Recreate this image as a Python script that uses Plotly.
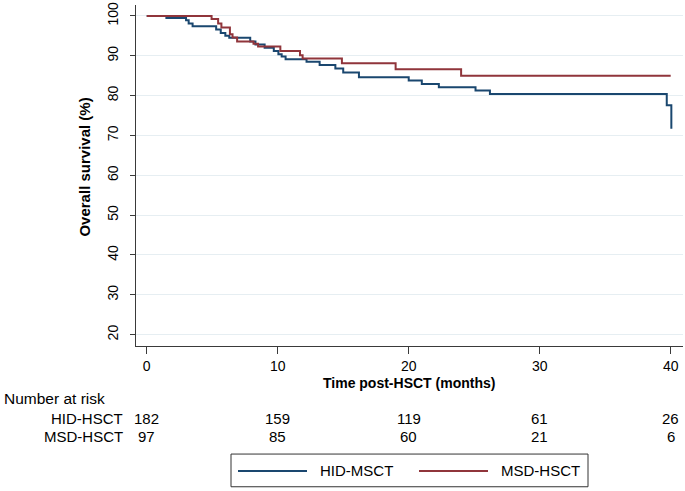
import plotly.graph_objects as go

# ---- data ----
hid_time = [0, 1.5, 3.0, 3.2, 3.5, 5.3, 5.65, 6.0, 6.3, 7.9, 8.3, 9.0, 9.7, 10.05, 10.3, 10.6,
            12.2, 13.2, 14.4, 15.0, 16.2, 20.0, 21.0, 22.3, 25.1, 26.2, 39.7, 40.05]
hid_surv = [100, 99.5, 98.9, 98.1, 97.4, 96.6, 95.7, 95.0, 94.5, 93.6, 92.8, 92.0, 91.2, 90.4, 89.8, 89.1,
            88.5, 87.7, 86.8, 85.8, 84.6, 83.8, 82.9, 82.1, 81.3, 80.4, 77.6, 71.7]

msd_time = [0, 4.95, 5.45, 5.7, 6.35, 6.55, 6.9, 8.15, 8.5, 10.2, 11.7, 11.9, 14.9, 19.0, 24.0, 40.0]
msd_surv = [100, 99.2, 98.1, 97.1, 95.4, 94.6, 93.6, 93.0, 92.3, 91.2, 90.1, 89.3, 88.1, 86.6, 85.0, 85.0]

risk_times = [0, 10, 20, 30, 40]
hid_risk = [182, 159, 119, 61, 26]
msd_risk = [97, 85, 60, 21, 6]

x_ticks = [0, 10, 20, 30, 40]
y_ticks = [20, 30, 40, 50, 60, 70, 80, 90, 100]

series_names = ["HID-MSCT", "MSD-HSCT"]
row_labels = ["HID-HSCT", "MSD-HSCT"]

BLUE = "#1a476f"
RED = "#90353b"
FONT = "Liberation Sans, Arial, sans-serif"
AXIS = "#3a3a3a"

# figure geometry (pixels)
W, H = 685, 491
ML, MR, MT, MB = 136, 2, 2, 145
PW, PH = W - ML - MR, H - MT - MB


def px(xp):
    return (xp - ML) / PW


def py(yp):
    return (H - MB - yp) / PH


fig = go.Figure()
fig.add_trace(go.Scatter(x=hid_time, y=hid_surv, mode="lines", line=dict(color=BLUE, width=2, shape="hv"),
                         name=series_names[0], showlegend=False))
fig.add_trace(go.Scatter(x=msd_time, y=msd_surv, mode="lines", line=dict(color=RED, width=2, shape="hv"),
                         name=series_names[1], showlegend=False))

ann = []
# axis titles
ann.append(dict(text="<b>Overall survival (%)</b>", x=px(85), y=py(166), xref="paper", yref="paper",
                textangle=-90, showarrow=False, xanchor="center", yanchor="middle",
                font=dict(size=15, color="#000", family=FONT)))
ann.append(dict(text="<b>Time post-HSCT (months)</b>", x=px(409), y=py(383), xref="paper", yref="paper",
                showarrow=False, xanchor="center", yanchor="middle",
                font=dict(size=14, color="#000", family=FONT)))
# risk table
ann.append(dict(text="Number at risk", x=px(1.5), y=py(399), xref="paper", yref="paper", showarrow=False,
                xanchor="left", yanchor="middle", font=dict(size=15.5, color="#000", family=FONT)))
row_y = [419, 437]
for label, vals, ry in zip(row_labels, (hid_risk, msd_risk), row_y):
    ann.append(dict(text=label, x=px(125), y=py(ry), xref="paper", yref="paper", showarrow=False,
                    xanchor="right", yanchor="middle", font=dict(size=15, color="#000", family=FONT)))
    for t, v in zip(risk_times, vals):
        ann.append(dict(text=str(v), x=t, y=py(ry), xref="x", yref="paper", showarrow=False,
                        xanchor="center", yanchor="middle", font=dict(size=15, color="#000", family=FONT)))

# legend (drawn manually to match the long line samples)
shapes = [dict(type="rect", xref="paper", yref="paper", x0=px(231), x1=px(588), y0=py(455), y1=py(488),
               line=dict(color="#333", width=1), fillcolor="rgba(0,0,0,0)")]
leg_items = [(BLUE, 238, 307, 318), (RED, 419, 488, 499)]
for name, (col, x0, x1, xt) in zip(series_names, leg_items):
    shapes.append(dict(type="line", xref="paper", yref="paper", x0=px(x0), x1=px(x1), y0=py(472), y1=py(472),
                       line=dict(color=col, width=2)))
    ann.append(dict(text=name, x=px(xt), y=py(472), xref="paper", yref="paper", showarrow=False,
                    xanchor="left", yanchor="middle", font=dict(size=15, color="#000", family=FONT)))

fig.update_layout(
    width=W, height=H,
    margin=dict(l=ML, r=MR, t=MT, b=MB),
    paper_bgcolor="white", plot_bgcolor="white",
    font=dict(family=FONT, size=14, color="#000"),
    annotations=ann, shapes=shapes,
    showlegend=False,
)
fig.update_xaxes(range=[-0.82, 40.94], tickvals=x_ticks, showgrid=False, zeroline=False,
                 showline=True, linecolor=AXIS, linewidth=1.3, ticks="outside", ticklen=7,
                 tickcolor=AXIS, tickfont=dict(size=14, family=FONT, color="#000"))
fig.update_yaxes(range=[17.16, 102.74], tickvals=y_ticks, showgrid=True, gridcolor="#e6eef2",
                 gridwidth=1, zeroline=False, showline=True, linecolor=AXIS, linewidth=1.3,
                 ticks="outside", ticklen=5, tickcolor=AXIS, tickangle=-90, ticklabelstandoff=6,
                 ticklabeloverflow="allow",
                 tickfont=dict(size=14, family=FONT, color="#000"))

fig.write_html("out.html", config={"displayModeBar": False},
               post_script="document.body.style.margin='0';document.body.style.overflow='hidden';")
